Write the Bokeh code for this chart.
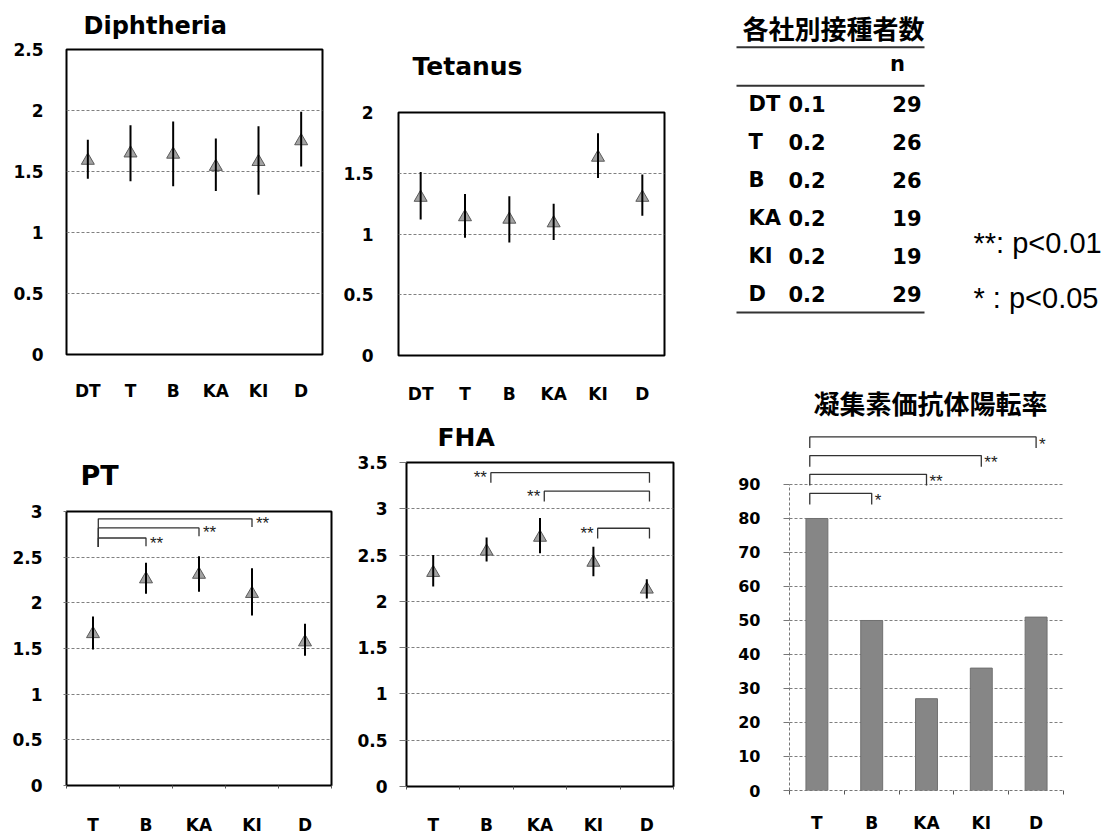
import numpy as np
from bokeh.plotting import figure
from bokeh.layouts import row, column
from bokeh.models import Range1d, FixedTicker, CustomJSTickFormatter
from bokeh.embed import file_html
from bokeh.resources import INLINE
from bokeh.core.properties import value

# ---------------- data ----------------
diph_cats = ["DT", "T", "B", "KA", "KI", "D"]
diph_mean = [1.59, 1.65, 1.64, 1.54, 1.58, 1.75]
diph_hi = [1.76, 1.88, 1.91, 1.77, 1.87, 1.99]
diph_lo = [1.44, 1.42, 1.38, 1.34, 1.31, 1.54]
diph_yticks = [0, 0.5, 1, 1.5, 2, 2.5]

tet_cats = ["DT", "T", "B", "KA", "KI", "D"]
tet_mean = [1.30, 1.14, 1.12, 1.09, 1.63, 1.30]
tet_hi = [1.51, 1.33, 1.31, 1.25, 1.83, 1.49]
tet_lo = [1.12, 0.97, 0.93, 0.95, 1.46, 1.15]
tet_yticks = [0, 0.5, 1, 1.5, 2]

pt_cats = ["T", "B", "KA", "KI", "D"]
pt_mean = [1.66, 2.26, 2.31, 2.10, 1.57]
pt_hi = [1.85, 2.44, 2.51, 2.38, 1.77]
pt_lo = [1.49, 2.10, 2.12, 1.86, 1.42]
pt_yticks = [0, 0.5, 1, 1.5, 2, 2.5, 3]
pt_br_from = ["T", "T", "T"]
pt_br_to = ["B", "KA", "KI"]
pt_br_level = [2.71, 2.82, 2.92]
pt_br_label = ["**", "**", "**"]

fha_cats = ["T", "B", "KA", "KI", "D"]
fha_mean = [2.31, 2.54, 2.69, 2.42, 2.13]
fha_hi = [2.50, 2.69, 2.90, 2.59, 2.24]
fha_lo = [2.16, 2.43, 2.52, 2.27, 2.03]
fha_yticks = [0, 0.5, 1, 1.5, 2, 2.5, 3, 3.5]
fha_br_from = ["B", "KA", "KI"]
fha_br_to = ["D", "D", "D"]
fha_br_level = [3.39, 3.19, 2.79]
fha_br_label = ["**", "**", "**"]

table_title = "各社別接種者数"
table_header = "n"
table_names = ["DT", "T", "B", "KA", "KI", "D"]
table_dose = ["0.1", "0.2", "0.2", "0.2", "0.2", "0.2"]
table_n = [29, 26, 26, 19, 19, 29]
legend_texts = ["**: p<0.01", "* : p<0.05"]

agg_title = "凝集素価抗体陽転率"
agg_cats = ["T", "B", "KA", "KI", "D"]
agg_rate = [80, 50, 27, 36, 51]
agg_yticks = [0, 10, 20, 30, 40, 50, 60, 70, 80, 90]
agg_br_from = ["T", "T", "T", "T"]
agg_br_to = ["D", "KI", "KA", "B"]
agg_br_level = [104, 98.5, 93, 87.4]
agg_br_label = ["*", "**", "**", "*"]

BOLD = "DejaVu Sans"
LAB_FORMAT = "return labels[Math.floor(tick)];"
NUM_FORMAT = "return String(Math.round(tick*10)/10);"


def base_fig(width, height, xr, yr, borders):
    p = figure(width=width, height=height, x_range=xr, y_range=yr,
               output_backend="svg", toolbar_location=None,
               min_border_left=borders[0], min_border_right=borders[1],
               min_border_top=borders[2], min_border_bottom=borders[3])
    p.frame_align = False
    p.background_fill_color = "white"
    p.border_fill_color = "white"
    return p


def set_title(p, text, size, offset, standoff, font=BOLD):
    p.title.text = text
    p.title.align = "left"
    p.title.offset = offset
    p.title.standoff = standoff
    p.title.text_font = font
    p.title.text_font_style = "bold"
    p.title.text_font_size = f"{size}px"
    p.title.text_color = "black"


def style_axes(p, cats, yticks, xstand, ystand, boundary_ticks, ytick_out):
    n = len(cats)
    xs = [i + 0.5 for i in range(n)]
    xa = p.xaxis[0]
    xa.ticker = FixedTicker(ticks=xs, minor_ticks=list(range(n + 1)) if boundary_ticks else [])
    xa.formatter = CustomJSTickFormatter(args=dict(labels=cats), code=LAB_FORMAT)
    xa.axis_line_color = None
    xa.major_tick_out = 0
    xa.major_tick_in = 0
    xa.minor_tick_in = 0
    xa.minor_tick_out = 3 if boundary_ticks else 0
    xa.minor_tick_line_color = "#555555"
    xa.major_label_standoff = xstand
    ya = p.yaxis[0]
    ya.ticker = FixedTicker(ticks=yticks, minor_ticks=[])
    ya.formatter = CustomJSTickFormatter(code=NUM_FORMAT)
    ya.axis_line_color = None
    ya.major_tick_out = ytick_out
    ya.major_tick_in = 0
    ya.major_tick_line_color = "#777777"
    ya.minor_tick_out = 0
    ya.major_label_standoff = ystand
    for ax in (xa, ya):
        ax.major_label_text_font = BOLD
        ax.major_label_text_font_style = "bold"
        ax.major_label_text_color = "black"
    xa.major_label_text_font_size = "17px"
    ya.major_label_text_font_size = "17px"
    return xs


def err_panel(cats, mean, hi, lo, yticks, width, height, borders, xstand, ystand,
              boundary_ticks=False, ytick_out=0):
    n = len(cats)
    p = base_fig(width, height, Range1d(0, n), Range1d(0, yticks[-1]), borders)
    p.outline_line_color = "black"
    p.outline_line_width = 2
    p.outline_line_alpha = 1
    p.xgrid.visible = False
    p.ygrid.ticker = FixedTicker(ticks=yticks)
    p.ygrid.grid_line_color = "#808080"
    p.ygrid.grid_line_dash = "3 2"
    p.ygrid.grid_line_width = 1
    xs = style_axes(p, cats, yticks, xstand, ystand, boundary_ticks, ytick_out)
    p.scatter(xs, mean, marker="triangle", size=13, fill_color="#a3a3a3",
              line_color="#5a5a5a", line_width=1)
    p.segment(x0=xs, y0=lo, x1=xs, y1=hi, line_color="black", line_width=2)
    return p, xs


def brackets(p, cats, frm, to, level, labels, leg, lofs, rofs, base=None,
             label_side="right", size="17px", yofs=0.0, xoff=4):
    idx = {c: i + 0.5 for i, c in enumerate(cats)}
    xsl, ysl, tx, ty = [], [], [], []
    for f, t, lv in zip(frm, to, level):
        xl = idx[f] + lofs
        xr = idx[t] + rofs
        yb = base if base is not None else lv - leg
        xsl.append([xl, xl, xr, xr])
        ysl.append([yb, lv, lv, lv - leg])
        tx.append(xr if label_side == "right" else xl)
        ty.append(lv - leg * 0.5 + yofs)
    p.multi_line(xsl, ysl, line_color="#333333", line_width=1.3)
    p.text(tx, ty, text=labels, text_font=value("Liberation Sans"), text_font_size=size,
           text_align="left" if label_side == "right" else "right",
           text_baseline="middle", text_color="#222222",
           x_offset=xoff if label_side == "right" else -xoff)


# ---------------- Diphtheria ----------------
pA, _ = err_panel(diph_cats, diph_mean, diph_hi, diph_lo, diph_yticks,
                  340, 408, (66, 18, 47, 54), 26, 23)
set_title(pA, "Diphtheria", 24, 17, 19)

# ---------------- Tetanus ----------------
pB, _ = err_panel(tet_cats, tet_mean, tet_hi, tet_lo, tet_yticks,
                  350, 410, (58, 26, 112, 55), 28, 25)
set_title(pB, "Tetanus", 25, 14, 63)

# ---------------- PT ----------------
pD, _ = err_panel(pt_cats, pt_mean, pt_hi, pt_lo, pt_yticks,
                  340, 429, (66, 9, 103, 47), 26, 21, boundary_ticks=True, ytick_out=3)
set_title(pD, "PT", 27, 14, 41)
brackets(pD, pt_cats, pt_br_from, pt_br_to, pt_br_level, pt_br_label,
         leg=0.09, lofs=0.1, rofs=0.0, base=2.61, label_side="right", yofs=-0.01)

# ---------------- FHA ----------------
pE, _ = err_panel(fha_cats, fha_mean, fha_hi, fha_lo, fha_yticks,
                  350, 427, (66, 17, 51, 47), 25, 12, boundary_ticks=True, ytick_out=7)
set_title(pE, "FHA", 25, 31, 21)
brackets(pE, fha_cats, fha_br_from, fha_br_to, fha_br_level, fha_br_label,
         leg=0.11, lofs=0.08, rofs=0.05, label_side="left", yofs=0.0)

# ---------------- table ----------------
pC = figure(width=425, height=375, x_range=Range1d(0, 425), y_range=Range1d(7.158, -2.711),
            output_backend="svg", toolbar_location=None, min_border=0)
pC.frame_align = False
pC.axis.visible = False
pC.grid.visible = False
pC.outline_line_color = None
rows = list(range(len(table_names)))
pC.text([52], [-2.0], text=[table_title], text_font=value("Noto Sans CJK JP"),
        text_font_style="bold", text_font_size="26px", text_baseline="middle", text_color="black")
pC.segment(x0=[46, 46, 46], y0=[-1.48, -0.47, 5.5], x1=[234, 234, 234], y1=[-1.48, -0.47, 5.5],
           line_color="#333333", line_width=2)
pC.text([207], [-1.05], text=[table_header], text_font=value(BOLD), text_font_style="bold",
        text_font_size="21px", text_align="center", text_baseline="middle", text_color="black")
pC.text([58] * len(rows), rows, text=table_names, text_font=value(BOLD), text_font_style="bold",
        text_font_size="21px", text_baseline="middle", text_color="black")
pC.text([98] * len(rows), rows, text=table_dose, text_font=value(BOLD), text_font_style="bold",
        text_font_size="21px", text_baseline="middle", text_color="black")
pC.text([231] * len(rows), rows, text=[str(v) for v in table_n], text_font=value(BOLD),
        text_font_style="bold", text_font_size="21px", text_align="right",
        text_baseline="middle", text_color="black")
pC.text([283, 283], [3.68, 5.13], text=legend_texts, text_font=value("Liberation Sans"),
        text_font_size="29px", text_baseline="middle", text_color="black")

# ---------------- agglutinin bar chart ----------------
pF = base_fig(425, 462, Range1d(0, len(agg_cats)), Range1d(0, 107.35), (99, 52, 50, 47))
pF.outline_line_color = None
pF.xgrid.visible = False
pF.ygrid.ticker = FixedTicker(ticks=agg_yticks)
pF.ygrid.grid_line_color = "#808080"
pF.ygrid.grid_line_dash = "3 2"
xsF = style_axes(pF, agg_cats, agg_yticks, 18, 23, True, 6)
pF.yaxis[0].bounds = (0, 90)
pF.yaxis[0].axis_line_color = "#777777"
pF.yaxis[0].axis_line_dash = "3 2"
pF.yaxis[0].major_label_text_font_size = "16px"
pF.xaxis[0].axis_line_color = "#777777"
pF.xaxis[0].axis_line_dash = "3 2"
pF.xaxis[0].minor_tick_out = 4
set_title(pF, agg_title, 26, 24, 9, font="Noto Sans CJK JP")
pF.vbar(x=xsF, top=agg_rate, width=0.4, fill_color="#868686", line_color="#707070", line_width=1)
brackets(pF, agg_cats, agg_br_from, agg_br_to, agg_br_level, agg_br_label,
         leg=3.3, lofs=-0.13, rofs=0.0, label_side="right", yofs=-0.5, xoff=3)

layout = row(column(pA, pD), column(pB, pE), column(pC, pF))
open("out.html", "w").write(file_html(layout, INLINE))
